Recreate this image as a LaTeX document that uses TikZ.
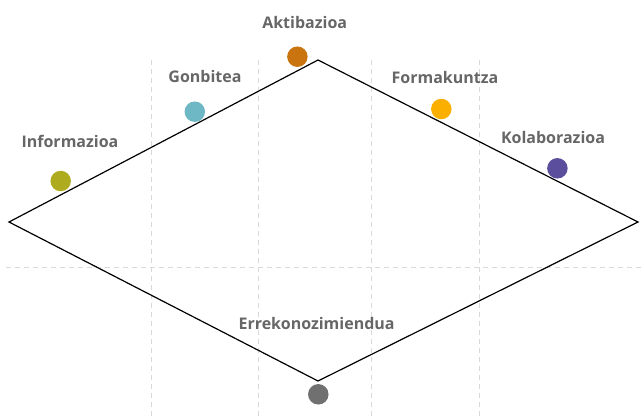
\documentclass[tikz,border=0pt]{standalone}
\usepackage{fontspec}
\setmainfont{Open Sans}
\begin{document}
\begin{tikzpicture}[x=1pt,y=-1pt,
  grid/.style={draw=black!15,line width=1pt,dash pattern=on 5pt off 4pt},
  dot/.style={circle,inner sep=0pt,minimum size=20.5pt},
  lbl/.style={text=black!60,font=\fontsize{16}{18}\selectfont\bfseries,inner sep=0pt}]
\useasboundingbox (0,0) rectangle (643,416);
\definecolor{cOlive}{HTML}{AEAC1E}
\definecolor{cTeal}{HTML}{6DB8C4}
\definecolor{cBrown}{HTML}{C9740F}
\definecolor{cAmber}{HTML}{FBAF00}
\definecolor{cPurple}{HTML}{5B4F9D}
\definecolor{cGrey}{HTML}{707070}
% grid
\foreach \gx in {151,258,371,479} \draw[grid] (\gx,60) -- (\gx,416);
\draw[grid] (6,267) -- (643,267);
% diamond
\coordinate (T) at (318,60);
\coordinate (L) at (9,222);
\coordinate (R) at (638,222);
\coordinate (B) at (318,381);
\draw[line width=1.2pt,line join=miter] (T) -- (R) -- (B) -- (L) -- cycle;
% dots
\node[dot,fill=cOlive] (d1) at (60.7,181) {};
\node[dot,fill=cTeal] (d2) at (194.8,111.7) {};
\node[dot,fill=cBrown] (d3) at (297.4,56.7) {};
\node[dot,fill=cAmber] (d4) at (441.3,109) {};
\node[dot,fill=cPurple] (d5) at (557.4,168.3) {};
\node[dot,fill=cGrey] (d6) at (318.3,394.3) {};
% labels
\node[lbl] (l1) at (70,141.7) {Informazioa};
\node[lbl] (l2) at (205,76.7) {Gonbitea};
\node[lbl] (l3) at (304.7,22.7) {Aktibazioa};
\node[lbl] (l4) at (445,77.7) {Formakuntza};
\node[lbl] (l5) at (553,137.7) {Kolaborazioa};
\node[lbl] (l6) at (316.6,323.3) {Errekonozimiendua};
\end{tikzpicture}
\end{document}
